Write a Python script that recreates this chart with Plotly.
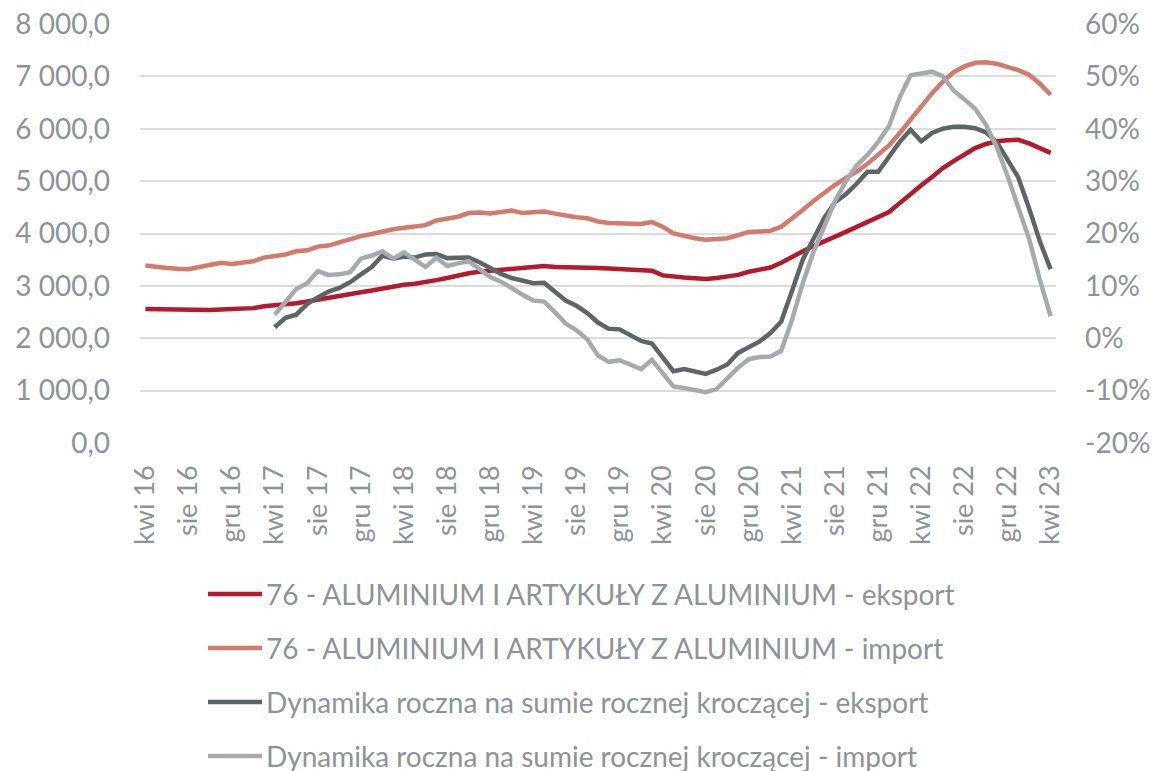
import plotly.graph_objects as go

# Monthly periods: April 2016 .. April 2023
MONTHS_PL = ["sty", "lut", "mar", "kwi", "maj", "cze", "lip", "sie", "wrz", "paź", "lis", "gru"]
START_YEAR, START_MONTH, N_PERIODS = 2016, 4, 85
periods = []
for k in range(N_PERIODS):
    m = (START_MONTH - 1 + k) % 12
    y = START_YEAR + (START_MONTH - 1 + k) // 12
    periods.append(f"{MONTHS_PL[m]} {y % 100:02d}")

# Rolling annual sums (left axis)
eksport = [
    2560, 2555, 2550, 2540, 2530, 2535, 2540, 2550, 2555, 2560, 2575, 2610,
    2625, 2640, 2670, 2700, 2740, 2770, 2800, 2840, 2880, 2910, 2950, 2980,
    3020, 3040, 3065, 3110, 3150, 3200, 3240, 3270, 3290, 3310, 3330, 3350,
    3370, 3380, 3360, 3360, 3355, 3350, 3340, 3330, 3320, 3315, 3310, 3290,
    3200, 3170, 3160, 3145, 3130, 3150, 3180, 3210, 3270, 3300, 3350, 3440,
    3560, 3660, 3760, 3860, 3940, 4030, 4120, 4210, 4300, 4410, 4580, 4760,
    4920, 5080, 5250, 5380, 5510, 5630, 5710, 5760, 5780, 5790, 5720, 5630,
    5540,
]
import_ = [
    3390, 3360, 3340, 3325, 3320, 3360, 3400, 3440, 3420, 3450, 3470, 3540,
    3560, 3600, 3660, 3680, 3750, 3770, 3830, 3900, 3950, 3990, 4040, 4080,
    4110, 4140, 4160, 4250, 4280, 4320, 4390, 4400, 4380, 4400, 4440, 4390,
    4400, 4420, 4380, 4340, 4310, 4290, 4230, 4200, 4200, 4190, 4180, 4220,
    4130, 4000, 3950, 3910, 3880, 3890, 3910, 3970, 4030, 4040, 4050, 4130,
    4280, 4450, 4620, 4780, 4930, 5060, 5180, 5330, 5510, 5680, 5920, 6180,
    6420, 6680, 6900, 7080, 7190, 7260, 7270, 7240, 7180, 7120, 7030, 6860,
    6650,
]

# Year-on-year dynamics of the rolling annual sum, in % (right axis), from April 2017
dyn_eksport = [
    2.1, 3.9, 4.5, 6.5, 7.8, 8.9, 9.6, 10.7, 12.2, 13.6, 15.8, 15.2,
    15.6, 15.4, 16.0, 16.1, 15.3, 15.3, 15.4, 14.5, 13.4, 12.3, 11.5, 10.9,
    10.5, 10.6, 8.8, 7.2, 6.2, 4.8, 3.0, 1.8, 1.7, 0.6, -0.5, -1.0,
    -3.5, -6.3, -5.9, -6.4, -6.8, -6.0, -5.0, -2.8, -1.6, -0.6, 1.0, 3.2,
    9.0, 15.0, 19.0, 23.0, 26.0, 27.5, 29.5, 31.8, 31.8, 34.6, 37.5, 39.8,
    37.6, 39.2, 40.0, 40.4, 40.4, 40.1, 39.3, 37.5, 34.0, 30.7, 24.8, 18.5,
    13.2,
]
dyn_import = [
    4.5, 7.0, 9.4, 10.5, 12.8, 12.1, 12.2, 12.6, 15.2, 15.8, 16.6, 15.2,
    16.4, 15.0, 13.6, 15.4, 13.8, 14.3, 14.7, 13.2, 11.7, 10.8, 9.5, 8.3,
    7.2, 7.0, 5.0, 2.8, 1.5, -0.2, -3.3, -4.5, -4.2, -5.0, -5.9, -4.1,
    -6.8, -9.2, -9.5, -9.9, -10.3, -9.7, -7.6, -5.6, -4.0, -3.6, -3.5, -2.4,
    3.5, 10.5, 16.5, 21.5, 26.2, 30.0, 33.0, 35.0, 37.5, 40.5, 46.0, 50.2,
    50.6, 50.9, 50.0, 47.3, 45.6, 43.8, 40.8, 36.5, 31.0, 25.0, 19.0, 11.2,
    4.2,
]
dyn_periods = periods[N_PERIODS - len(dyn_eksport):]

# Axis ticks
tick_periods = periods[::4]
pct_ticks = list(range(-20, 61, 10))
pct_labels = [f"{v}%" for v in pct_ticks]

names = [
    "76 - ALUMINIUM I ARTYKUŁY Z ALUMINIUM - eksport",
    "76 - ALUMINIUM I ARTYKUŁY Z ALUMINIUM - import",
    "Dynamika roczna na sumie rocznej kroczącej - eksport",
    "Dynamika roczna na sumie rocznej kroczącej - import",
]
colors = ["#B5192B", "#D47A6D", "#5F6467", "#A7AAAD"]
TEXT = "#8E9397"
FONT = "Lato"
LW = 4.5

fig = go.Figure()
fig.add_trace(go.Scatter(x=periods, y=eksport, name=names[0], mode="lines",
                         line=dict(color=colors[0], width=LW)))
fig.add_trace(go.Scatter(x=periods, y=import_, name=names[1], mode="lines",
                         line=dict(color=colors[1], width=LW)))
fig.add_trace(go.Scatter(x=dyn_periods, y=dyn_eksport, name=names[2], mode="lines",
                         yaxis="y2", line=dict(color=colors[2], width=LW)))
fig.add_trace(go.Scatter(x=dyn_periods, y=dyn_import, name=names[3], mode="lines",
                         yaxis="y2", line=dict(color=colors[3], width=LW)))

W, H = 1155, 771
M_L, M_R, M_T, M_B = 140, 99, 24, 328

fig.update_layout(
    width=W, height=H,
    margin=dict(l=M_L, r=M_R, t=M_T, b=M_B, autoexpand=False),
    paper_bgcolor="white", plot_bgcolor="white",
    showlegend=False,
    separators=", ",
    font=dict(family=FONT, color=TEXT, size=28),
    xaxis=dict(
        type="category", categoryorder="array", categoryarray=periods,
        range=[-0.5, N_PERIODS - 0.5], automargin=False,
        tickmode="array", tickvals=tick_periods, ticktext=tick_periods,
        tickangle=-90, showgrid=False, zeroline=False, showline=False,
        ticks="", tickfont=dict(size=27, color=TEXT), ticklabelstandoff=16,
    ),
    yaxis=dict(
        range=[0, 8000], dtick=1000, tickformat=",.1f", automargin=False,
        showgrid=True, gridcolor="#DCDCDC", gridwidth=1.6,
        zeroline=False, showline=False, ticks="",
        tickfont=dict(size=28, color=TEXT), ticklabelstandoff=29,
    ),
    yaxis2=dict(
        overlaying="y", side="right", range=[-20, 60], automargin=False,
        tickmode="array", tickvals=pct_ticks, ticktext=pct_labels,
        showgrid=False, zeroline=False, showline=False,
        ticks="", tickfont=dict(size=28, color=TEXT), ticklabelstandoff=28,
    ),
)

# Legend below the chart: line sample plus label for each series
plot_w = W - M_L - M_R
plot_h = H - M_T - M_B
leg_y = [594, 648, 702, 756]
shapes, annotations = [], []
for name, col, yy in zip(names, colors, leg_y):
    yp = (H - M_B - yy) / plot_h
    shapes.append(dict(type="line", xref="paper", yref="paper",
                       x0=(208 - M_L) / plot_w, x1=(262 - M_L) / plot_w,
                       y0=yp, y1=yp, line=dict(color=col, width=LW)))
    annotations.append(dict(text=name, xref="paper", yref="paper",
                            x=(264 - M_L) / plot_w, y=yp, xanchor="left",
                            yanchor="middle", showarrow=False,
                            font=dict(family=FONT, size=28, color=TEXT)))
fig.update_layout(shapes=shapes, annotations=annotations)

fig.write_html("out.html")
